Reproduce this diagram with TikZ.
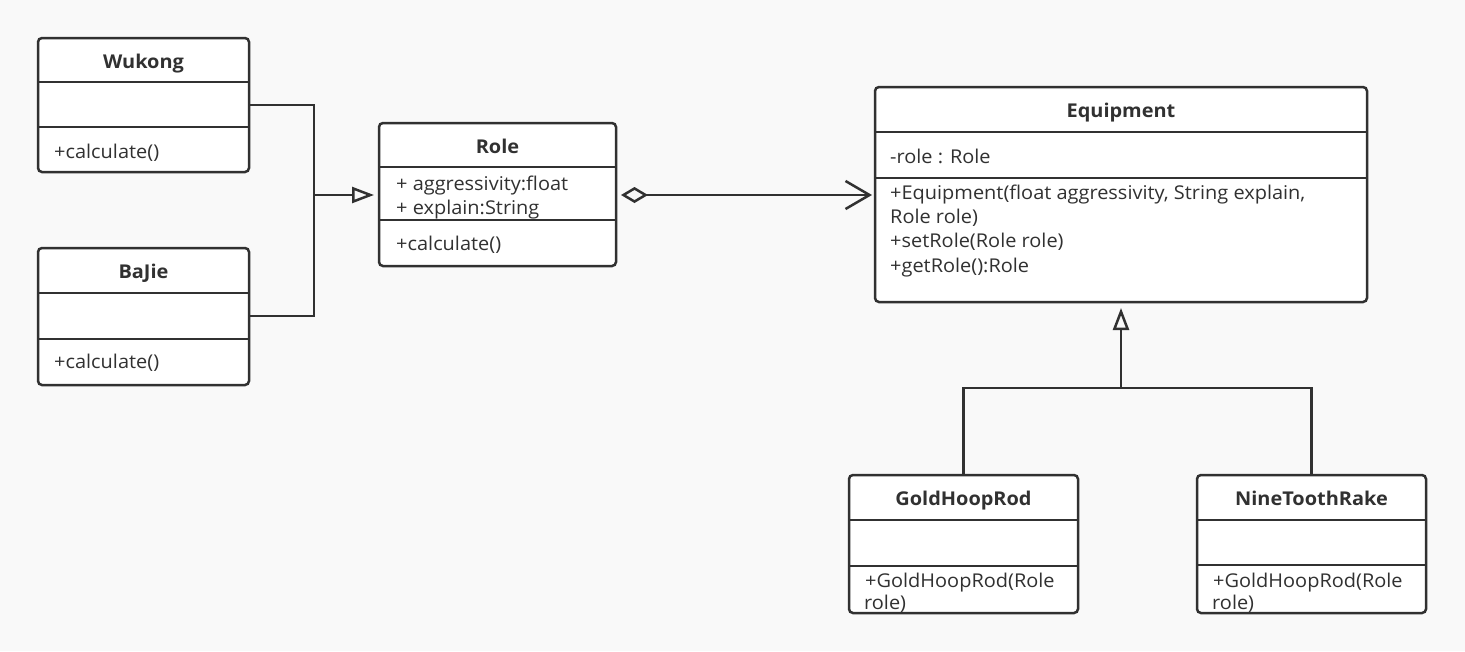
\documentclass[tikz,border=0pt]{standalone}
\usepackage{fontspec}
\setmainfont{Open Sans}[FakeStretch=1.05]
\usetikzlibrary{arrows.meta}
\definecolor{ink}{HTML}{313131}
\definecolor{paper}{HTML}{F9F9F9}
\tikzset{
  cls/.style={draw=ink, line width=2.5pt, fill=white, rounded corners=4pt, anchor=north west, inner sep=0pt, outer sep=0pt},
  divider/.style={draw=ink, line width=2.5pt},
  ctitle/.style={font=\fontsize{19}{22}\selectfont\bfseries, text=ink, anchor=base, inner sep=0pt},
  member/.style={font=\fontsize{19}{22}\selectfont, text=ink, anchor=base west, inner sep=0pt},
  conn/.style={draw=ink, line width=2.5pt},
  genarrow/.style={-{Triangle[open, length=22pt, width=16pt]}},
  aggarrow/.style={{Diamond[open, length=27pt, width=16pt]}-{Straight Barb[length=24pt, width=28pt]}},
}
\begin{document}
\begin{tikzpicture}[x=1pt,y=-1pt]
\fill[paper] (0,0) rectangle (1465,651);
\useasboundingbox (0,0) rectangle (1465,651);

% Wukong
\node[cls, minimum width=211pt, minimum height=134pt] (wk) at (38,38) {};
\draw[divider] (wk.west |- 0,82) -- (wk.east |- 0,82);
\draw[divider] (wk.west |- 0,127) -- (wk.east |- 0,127);
\node[ctitle] (wkT) at (143.5,68) {Wukong};
\node[member] (wkM) at (54,158) {+calculate()};

% BaJie
\node[cls, minimum width=211pt, minimum height=137pt] (bj) at (38,248) {};
\draw[divider] (bj.west |- 0,293) -- (bj.east |- 0,293);
\draw[divider] (bj.west |- 0,339) -- (bj.east |- 0,339);
\node[ctitle] (bjT) at (143.5,278) {BaJie};
\node[member] (bjM) at (54,368) {+calculate()};

% Role
\node[cls, minimum width=237pt, minimum height=143pt] (role) at (379,123) {};
\draw[divider] (role.west |- 0,167) -- (role.east |- 0,167);
\draw[divider] (role.west |- 0,220) -- (role.east |- 0,220);
\node[ctitle] (roleT) at (497.5,153) {Role};
\node[member] (roleA1) at (396,190) {+ aggressivity:float};
\node[member] (roleA2) at (396,214) {+ explain:String};
\node[member] (roleM) at (396,250) {+calculate()};

% Equipment
\node[cls, minimum width=492pt, minimum height=215pt] (eq) at (875,87) {};
\draw[divider] (eq.west |- 0,132) -- (eq.east |- 0,132);
\draw[divider] (eq.west |- 0,178) -- (eq.east |- 0,178);
\node[ctitle] (eqT) at (1121,117) {Equipment};
\node[member] (eqA) at (890,163) {-role : Role};
\node[member] (eqM1) at (890,199) {+Equipment(float aggressivity, String explain,};
\node[member] (eqM2) at (890,223) {Role role)};
\node[member] (eqM3) at (890,247) {+setRole(Role role)};
\node[member] (eqM4) at (890,272) {+getRole():Role};

% GoldHoopRod
\node[cls, minimum width=229pt, minimum height=138pt] (gr) at (849,475) {};
\draw[divider] (gr.west |- 0,520) -- (gr.east |- 0,520);
\draw[divider] (gr.west |- 0,566) -- (gr.east |- 0,566);
\node[ctitle] (grT) at (963.5,505) {GoldHoopRod};
\node[member] (grM1) at (865,587) {+GoldHoopRod(Role};
\node[member] (grM2) at (864,609) {role)};

% NineToothRake
\node[cls, minimum width=229pt, minimum height=138pt] (nr) at (1197,475) {};
\draw[divider] (nr.west |- 0,520) -- (nr.east |- 0,520);
\draw[divider] (nr.west |- 0,565) -- (nr.east |- 0,565);
\node[ctitle] (nrT) at (1311.5,505) {NineToothRake};
\node[member] (nrM1) at (1213,587) {+GoldHoopRod(Role};
\node[member] (nrM2) at (1212,609) {role)};

% connectors
\coordinate (j1) at (314,195);
\draw[conn] (wk.east |- 0,105) -| (j1);
\draw[conn] (bj.east |- 0,316) -| (j1);
\draw[conn, genarrow, shorten >=5pt] (j1) -- (role.west |- j1);

\draw[conn, aggarrow, shorten <=5pt, shorten >=3pt] (role.east |- 0,195) -- (eq.west |- 0,195);

\coordinate (j2) at (eq.south |- 0,388);
\draw[conn] (gr.north) |- (nr.north |- j2) -- (nr.north);
\draw[conn, genarrow, shorten >=6pt] (j2) -- (eq.south);
\end{tikzpicture}
\end{document}
